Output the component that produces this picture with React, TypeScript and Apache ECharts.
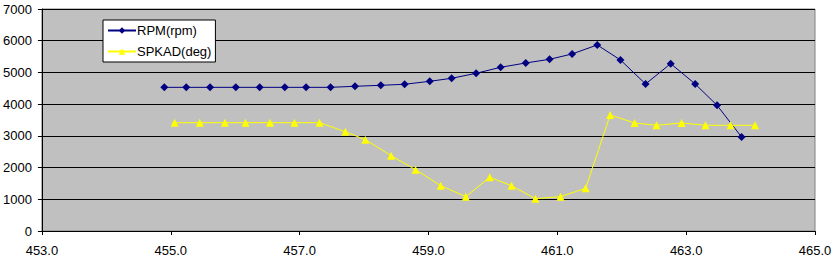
import React, { useEffect, useRef } from "react";
import * as echarts from "echarts";

const rpmX = [454.9, 455.24, 455.61, 456.01, 456.38, 456.77, 457.1, 457.48, 457.86, 458.26, 458.63, 459.02, 459.36, 459.74, 460.12, 460.51, 460.88, 461.23, 461.62, 461.98, 462.37, 462.76, 463.14, 463.48, 463.86];
const rpmY = [4530, 4530, 4530, 4530, 4530, 4530, 4530, 4530, 4563, 4594, 4626, 4720, 4815, 4973, 5162, 5298, 5414, 5582, 5866, 5393, 4636, 5277, 4636, 3963, 2964];
const spkX = [455.06, 455.45, 455.84, 456.16, 456.54, 456.92, 457.31, 457.71, 458.02, 458.42, 458.8, 459.19, 459.58, 459.95, 460.29, 460.66, 461.05, 461.44, 461.82, 462.2, 462.54, 462.93, 463.3, 463.69, 464.07];
const spkY = [3415, 3415, 3415, 3415, 3415, 3415, 3415, 3130, 2880, 2376, 1934, 1430, 1083, 1693, 1430, 1019, 1083, 1346, 3658, 3406, 3333, 3406, 3333, 3333, 3333];

const FONT = "'Liberation Sans', Arial, sans-serif";

export default function App() {
  const ref = useRef<HTMLDivElement>(null);
  useEffect(() => {
    document.body.style.margin = "0";
    const chart = echarts.init(ref.current!, undefined, { renderer: "svg" });
    chart.setOption({
      animation: false,
      backgroundColor: "#ffffff",
      textStyle: { fontFamily: FONT, color: "#000" },
      grid: {
        left: 41,
        right: 21,
        top: 9,
        bottom: 35,
        show: true,
        backgroundColor: "#C0C0C0",
        borderColor: "#808080",
        borderWidth: 1,
      },
      legend: {
        left: 103,
        top: 20,
        orient: "vertical",
        backgroundColor: "#ffffff",
        borderColor: "#000000",
        borderWidth: 1,
        borderRadius: 0,
        padding: [4, 4, 4, 4],
        itemGap: 8,
        itemWidth: 28,
        itemHeight: 8,
        textStyle: { fontFamily: FONT, fontSize: 13, color: "#000", padding: [0, 0, 0, -4] },
        data: ["RPM(rpm)", "SPKAD(deg)"],
      },
      xAxis: {
        type: "value",
        min: 453,
        max: 465,
        interval: 2,
        axisLine: { show: true, onZero: false, lineStyle: { color: "#000", width: 1 } },
        axisTick: { show: true, length: 4, lineStyle: { color: "#000" } },
        axisLabel: {
          fontFamily: FONT,
          fontSize: 13,
          color: "#000",
          margin: 13,
          formatter: (v: number) => v.toFixed(1),
        },
        splitLine: { show: false },
      },
      yAxis: {
        type: "value",
        min: 0,
        max: 7000,
        interval: 1000,
        axisLine: { show: true, lineStyle: { color: "#000", width: 1 } },
        axisTick: { show: true, length: 4, lineStyle: { color: "#000" } },
        axisLabel: {
          fontFamily: FONT,
          fontSize: 13,
          color: "#000",
          margin: 10,
          formatter: (v: number) => String(v),
        },
        splitLine: { show: true, lineStyle: { color: "#000", width: 1 } },
      },
      series: [
        {
          name: "RPM(rpm)",
          type: "line",
          data: rpmX.map((x, i) => [x, rpmY[i]]),
          symbol: "diamond",
          symbolSize: 8,
          lineStyle: { color: "#000080", width: 1 },
          itemStyle: { color: "#000080" },
        },
        {
          name: "SPKAD(deg)",
          type: "line",
          data: spkX.map((x, i) => [x, spkY[i]]),
          symbol: "triangle",
          symbolSize: 8,
          lineStyle: { color: "#FFFF00", width: 1 },
          itemStyle: { color: "#FFFF00" },
        },
      ],
    });
    return () => chart.dispose();
  }, []);
  return <div ref={ref} style={{ width: 836, height: 266 }} />;
}
